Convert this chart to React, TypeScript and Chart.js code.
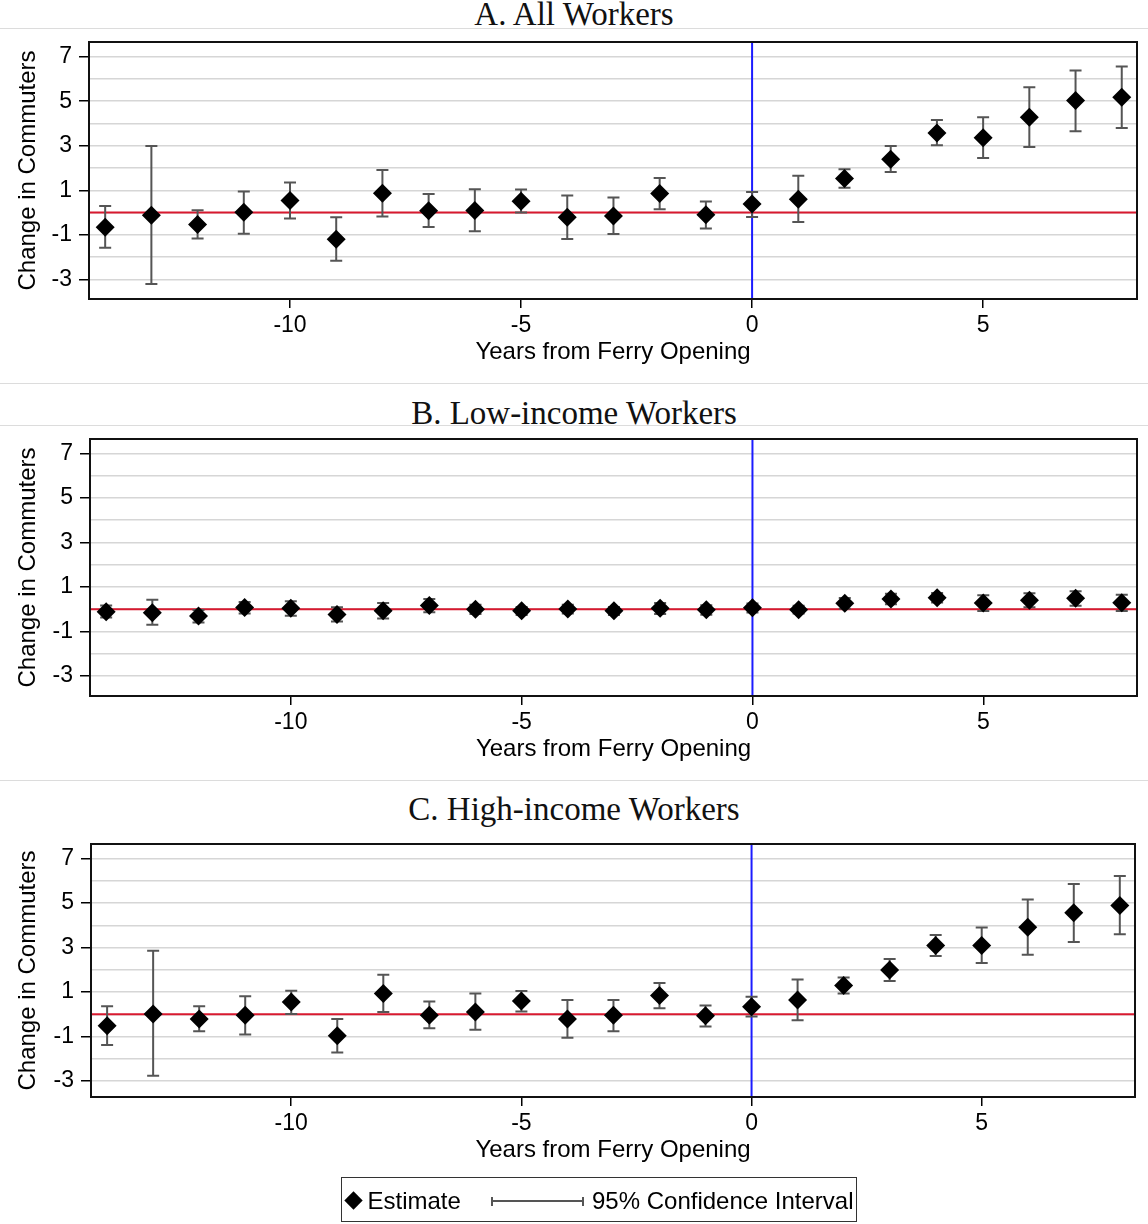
import React, { useEffect, useRef } from 'react';
import { Chart, registerables } from 'chart.js';

Chart.register(...registerables);

// ---------------- data ----------------
const years = [-14, -13, -12, -11, -10, -9, -8, -7, -6, -5, -4, -3, -2, -1, 0, 1, 2, 3, 4, 5, 6, 7, 8];

const allEst = [-0.66, -0.12, -0.54, 0.01, 0.54, -1.2, 0.87, 0.08, 0.09, 0.51, -0.21, -0.15, 0.86, -0.1, 0.39, 0.6, 1.53, 2.4, 3.57, 3.36, 4.28, 5.03, 5.18];
const allLo = [-1.58, -3.21, -1.16, -0.95, -0.27, -2.16, -0.17, -0.65, -0.84, 0.0, -1.19, -0.96, 0.15, -0.71, -0.2, -0.42, 1.11, 1.82, 3.02, 2.45, 2.94, 3.65, 3.8];
const allHi = [0.3, 2.99, 0.1, 0.95, 1.35, -0.21, 1.91, 0.83, 1.05, 1.04, 0.77, 0.68, 1.55, 0.5, 0.93, 1.65, 1.95, 2.99, 4.16, 4.28, 5.63, 6.38, 6.56];

const lowEst = [-0.12, -0.16, -0.31, 0.07, 0.04, -0.24, -0.07, 0.16, 0.0, -0.07, 0.01, -0.07, 0.04, -0.03, 0.06, -0.03, 0.26, 0.46, 0.51, 0.28, 0.4, 0.49, 0.29];
const lowLo = [-0.38, -0.7, -0.6, -0.19, -0.3, -0.55, -0.42, -0.14, -0.22, -0.26, -0.19, -0.26, -0.22, -0.25, -0.15, -0.2, 0.02, 0.22, 0.3, -0.08, 0.09, 0.15, -0.08];
const lowHi = [0.16, 0.42, -0.04, 0.32, 0.36, 0.08, 0.28, 0.46, 0.2, 0.1, 0.2, 0.1, 0.28, 0.17, 0.25, 0.15, 0.5, 0.69, 0.72, 0.62, 0.71, 0.8, 0.65];

const highEst = [-0.51, 0.01, -0.21, -0.04, 0.55, -0.96, 0.94, -0.04, 0.1, 0.6, -0.21, -0.04, 0.84, -0.06, 0.34, 0.64, 1.3, 1.99, 3.1, 3.1, 3.91, 4.57, 4.89];
const highLo = [-1.38, -2.76, -0.76, -0.91, 0.01, -1.72, 0.1, -0.63, -0.7, 0.13, -1.05, -0.76, 0.27, -0.55, -0.1, -0.27, 0.94, 1.5, 2.62, 2.31, 2.68, 3.25, 3.6];
const highHi = [0.36, 2.86, 0.36, 0.81, 1.06, -0.21, 1.78, 0.57, 0.94, 1.05, 0.64, 0.64, 1.41, 0.4, 0.79, 1.56, 1.66, 2.49, 3.57, 3.9, 5.16, 5.86, 6.22];

const yTickValues = [-3, -2, -1, 0, 1, 2, 3, 4, 5, 6, 7];
const xTickValues = [-10, -5, 0, 5];

const panelTitles = ['A. All Workers', 'B. Low-income Workers', 'C. High-income Workers'];
const xAxisTitle = 'Years from Ferry Opening';
const yAxisTitle = 'Change in Commuters';
const legendLabels = ['Estimate', '95% Confidence Interval'];

const X_MIN = -14.35;
const X_MAX = 8.33;

const SANS = '"Liberation Sans", Arial, Helvetica, sans-serif';
const SERIF = '"Liberation Serif", "Times New Roman", serif';

type PanelProps = {
  top: number;
  height: number;
  chartTop: number;
  axisWidth: number;
  rightPad: number;
  yMin: number;
  yMax: number;
  est: number[];
  lo: number[];
  hi: number[];
};

function Panel(props: PanelProps) {
  const ref = useRef<HTMLCanvasElement | null>(null);
  const { top, height, chartTop, axisWidth, rightPad, yMin, yMax, est, lo, hi } = props;

  useEffect(() => {
    if (!ref.current) return;

    const errorBars = {
      id: 'errorBars',
      beforeDatasetDraw(chart: any, args: any) {
        if (args.index !== 0) return;
        const { ctx, chartArea, scales } = chart;
        const xs = scales.x;
        const ys = scales.y;
        ctx.save();
        ctx.beginPath();
        ctx.rect(chartArea.left, chartArea.top, chartArea.right - chartArea.left, chartArea.bottom - chartArea.top);
        ctx.clip();
        ctx.strokeStyle = '#555555';
        ctx.lineWidth = 2;
        years.forEach((yr, i) => {
          const px = xs.getPixelForValue(yr);
          const pLo = ys.getPixelForValue(lo[i]);
          const pHi = ys.getPixelForValue(hi[i]);
          ctx.beginPath();
          ctx.moveTo(px, pLo);
          ctx.lineTo(px, pHi);
          ctx.moveTo(px - 6, pLo);
          ctx.lineTo(px + 6, pLo);
          ctx.moveTo(px - 6, pHi);
          ctx.lineTo(px + 6, pHi);
          ctx.stroke();
        });
        ctx.restore();
      },
    };

    const frame = {
      id: 'frame',
      afterDraw(chart: any) {
        const { ctx, chartArea: a } = chart;
        ctx.save();
        ctx.strokeStyle = '#111';
        ctx.lineWidth = 2;
        ctx.strokeRect(a.left, a.top, a.right - a.left, a.bottom - a.top);
        ctx.restore();
      },
    };

    const chart = new Chart(ref.current, {
      type: 'scatter',
      data: {
        datasets: [
          {
            label: legendLabels[0],
            data: years.map((x, i) => ({ x, y: est[i] })),
            pointStyle: 'rectRot',
            pointRadius: 9.5,
            pointBackgroundColor: '#000',
            pointBorderWidth: 0,
            showLine: false,
          } as any,
          {
            type: 'line',
            data: [
              { x: X_MIN, y: 0 },
              { x: X_MAX, y: 0 },
            ],
            borderColor: '#d8192f',
            borderWidth: 2,
            pointRadius: 0,
          } as any,
          {
            type: 'line',
            data: [
              { x: 0, y: yMin },
              { x: 0, y: yMax },
            ],
            borderColor: '#1c1cff',
            borderWidth: 2,
            pointRadius: 0,
          } as any,
        ],
      },
      options: {
        responsive: false,
        animation: false,
        devicePixelRatio: 1,
        layout: { padding: { top: chartTop, left: 0, right: rightPad, bottom: 0 } },
        plugins: {
          legend: { display: false },
          tooltip: { enabled: false },
          title: { display: false },
        },
        scales: {
          x: {
            type: 'linear',
            min: X_MIN,
            max: X_MAX,
            afterBuildTicks: (s: any) => {
              s.ticks = xTickValues.map((v) => ({ value: v }));
            },
            afterFit: (s: any) => {
              s.height = 81;
            },
            grid: {
              drawOnChartArea: false,
              drawTicks: true,
              tickLength: 9,
              tickColor: '#000',
              lineWidth: 1.5,
            },
            border: { display: false },
            ticks: {
              color: '#000',
              font: { family: SANS, size: 23 },
              padding: 4,
              autoSkip: false,
              maxRotation: 0,
              callback: (v: any) => String(v),
            },
            title: {
              display: true,
              text: xAxisTitle,
              color: '#000',
              font: { family: SANS, size: 24 },
              padding: { top: 0, bottom: 13 },
            },
          },
          y: {
            type: 'linear',
            min: yMin,
            max: yMax,
            afterBuildTicks: (s: any) => {
              s.ticks = yTickValues.map((v) => ({ value: v }));
            },
            afterFit: (s: any) => {
              s.width = axisWidth;
            },
            grid: {
              color: '#d6d6d6',
              lineWidth: 1.5,
              drawTicks: true,
              tickLength: 10,
              tickColor: (c: any) =>
                c.tick && Math.abs(c.tick.value % 2) === 1 ? '#000' : 'rgba(0,0,0,0)',
            },
            border: { display: false },
            ticks: {
              color: '#000',
              font: { family: SANS, size: 23 },
              padding: 7,
              autoSkip: false,
              callback: (v: any) => (Math.abs(Number(v) % 2) === 1 ? String(v) : ''),
            },
            title: {
              display: true,
              text: yAxisTitle,
              color: '#000',
              font: { family: SANS, size: 24 },
              padding: { top: 14, bottom: 0 },
            },
          },
        },
      } as any,
      plugins: [errorBars, frame],
    });
    return () => chart.destroy();
  }, []);

  return (
    <canvas
      ref={ref}
      width={1148}
      height={height}
      style={{ position: 'absolute', left: 0, top, width: 1148, height }}
    />
  );
}

const sepStyle = (top: number): React.CSSProperties => ({
  position: 'absolute',
  left: 0,
  top,
  width: 1148,
  height: 0,
  borderTop: '1.5px solid #dcdcdc',
});

const titleStyle = (top: number): React.CSSProperties => ({
  position: 'absolute',
  left: 0,
  top,
  width: 1148,
  textAlign: 'center',
  fontFamily: SERIF,
  fontSize: 33,
  lineHeight: '33px',
  color: '#111',
  whiteSpace: 'nowrap',
});

export default function App() {
  return (
    <div
      style={{
        position: 'absolute',
        left: 0,
        top: 0,
        width: 1148,
        height: 1224,
        background: '#fff',
        overflow: 'hidden',
      }}
    >
      <div style={sepStyle(28)} />
      <div style={sepStyle(382.5)} />
      <div style={sepStyle(424.5)} />
      <div style={sepStyle(779.5)} />

      <div style={titleStyle(-2.5)}>{panelTitles[0]}</div>
      <div style={titleStyle(396.5)}>{panelTitles[1]}</div>
      <div style={titleStyle(793)}>{panelTitles[2]}</div>

      <Panel top={0} height={380} chartTop={42} axisWidth={89} rightPad={11} yMin={-3.88} yMax={7.66} est={allEst} lo={allLo} hi={allHi} />
      <Panel top={380} height={397} chartTop={59} axisWidth={90} rightPad={11} yMin={-3.9} yMax={7.64} est={lowEst} lo={lowLo} hi={lowHi} />
      <Panel top={780} height={398} chartTop={64} axisWidth={91} rightPad={13} yMin={-3.72} yMax={7.66} est={highEst} lo={highLo} hi={highHi} />

      <div
        style={{
          position: 'absolute',
          left: 341,
          top: 1177,
          width: 516,
          height: 45,
          border: '1.5px solid #333',
          boxSizing: 'border-box',
          fontFamily: SANS,
          fontSize: 24,
          lineHeight: '24px',
          color: '#000',
        }}
      >
        <div
          style={{
            position: 'absolute',
            left: 5,
            top: 15.5,
            width: 13,
            height: 13,
            background: '#000',
            transform: 'rotate(45deg)',
          }}
        />
        <div style={{ position: 'absolute', left: 25.5, top: 10.5, whiteSpace: 'nowrap' }}>{legendLabels[0]}</div>
        <div
          style={{
            position: 'absolute',
            left: 148.5,
            top: 22,
            width: 93,
            height: 2,
            background: '#555',
          }}
        />
        <div style={{ position: 'absolute', left: 148.5, top: 18.5, width: 2, height: 9, background: '#555' }} />
        <div style={{ position: 'absolute', left: 240, top: 18.5, width: 2, height: 9, background: '#555' }} />
        <div style={{ position: 'absolute', left: 250, top: 10.5, whiteSpace: 'nowrap' }}>{legendLabels[1]}</div>
      </div>
    </div>
  );
}
